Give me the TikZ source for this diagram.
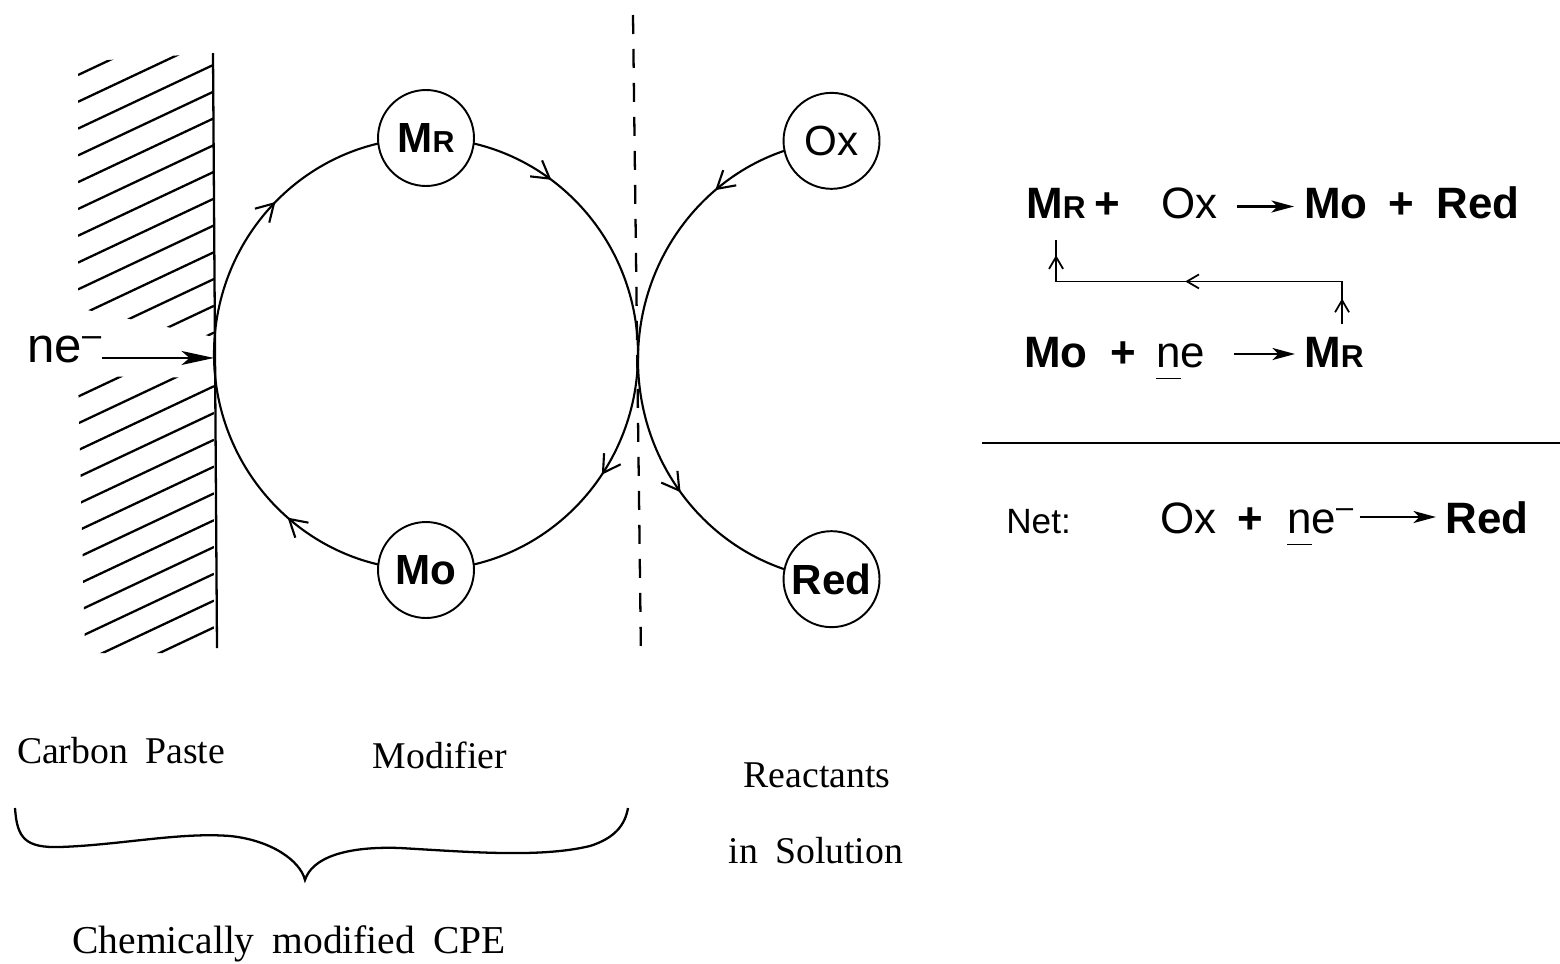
\documentclass[tikz,border=0pt]{standalone}
\usepackage{fontspec}
\setmainfont{Liberation Serif}[WordSpace=1.8]
\setsansfont{Liberation Sans}
\usepackage{graphicx}
\usetikzlibrary{arrows.meta, calc, decorations.markings}
\pgfdeclarelayer{background}
\pgfsetlayers{background,main}
\newcommand{\MR}{\textbf{M\scalebox{0.72}{R}}}

\begin{document}
\begin{tikzpicture}[
  x=0.02cm, y=0.02cm,
  line width=1.1pt,
  >={Straight Barb[length=3.4mm,width=4mm]},
  species/.style={circle, draw, fill=white, minimum size=1.92cm, inner sep=0pt, font=\sffamily\fontsize{24}{24}\selectfont},
  eqn/.style={anchor=base west, inner sep=0pt, font=\sffamily\fontsize{25}{25}\selectfont},
  tag/.style={anchor=base, inner sep=0pt, font=\fontsize{21.5}{21.5}\selectfont},
  orbit/.style={line width=1.2pt, postaction={decorate}},
  turn/.style={orbit, decoration={markings, mark=at position #1 with {\arrow{>}}}},
  rxn/.style={-{Stealth[length=4.5mm,width=2.4mm,inset=1.2mm]}, line width=1.4pt},
  push/.style={-{Stealth[length=6.5mm,width=2.8mm,inset=1.6mm]}, line width=1.2pt},
  fb/.style={line width=1pt, postaction={decorate}, decoration={markings,
    mark=at position 0.07 with {\arrow{Straight Barb[length=2.4mm,width=2.8mm]}},
    mark=at position 0.54 with {\arrow{Straight Barb[length=2.4mm,width=2.8mm]}},
    mark=at position 0.96 with {\arrow{Straight Barb[length=2.4mm,width=2.8mm]}}}},
  hatch/.style={line width=1.3pt}
]
  \useasboundingbox (0,0) rectangle (1560,-964);

  \coordinate (wt) at (213,-53);
  \coordinate (wb) at (217,-648);
  \coordinate (mc) at (426,-354);
  \coordinate (rc) at (850,-360);
  \coordinate (wl) at (214,-354);
  \coordinate (tp) at (638,-354);

  \node[species] (mr) at (426,-138) {\MR};
  \node[species] (mo) at (426,-570) {\textbf{Mo}};
  \node[species] (ox) at ($(rc)+(95:212 and 220)$) {Ox};
  \node[species] (red) at ($(rc)+(265:212 and 220)$) {\textbf{Red}};

  \begin{pgfonlayer}{background}
    \draw[turn=0.5] (wl) arc[start angle=180, end angle=90, x radius=212, y radius=216];
    \draw[turn=0.4] (mr) arc[start angle=90, end angle=0, x radius=212, y radius=216];
    \draw[turn=0.38] (tp) arc[start angle=0, end angle=-90, x radius=212, y radius=216];
    \draw[turn=0.45] (mo) arc[start angle=270, end angle=180, x radius=212, y radius=216];
    \draw[orbit, decoration={markings, mark=at position 0.2 with {\arrow{>}}, mark=at position 0.72 with {\arrow{>}}}]
      (ox) arc[start angle=95, end angle=265, x radius=212, y radius=220];
  \end{pgfonlayer}

  \begin{scope}
    \clip (78,-62) -- (214,-53) -- (214,-337) -- (78,-308) -- cycle;
    \foreach \k in {0,...,23}
      \draw[hatch] (78,{-75-26.8*\k}) -- ++(136,64);
  \end{scope}
  \begin{scope}
    \clip (78,-376) -- (214,-378) -- (214,-653) -- (85,-653) -- cycle;
    \foreach \k in {0,...,23}
      \draw[hatch] (78,{-75-26.8*\k}) -- ++(136,64);
  \end{scope}
  \draw[line width=1.3pt] (wt) -- (wb);

  \draw[line width=1.3pt, dash pattern=on 0.38cm off 0.3cm] (633,-15) -- (641,-658);

  \node[anchor=base west, inner sep=0pt, font=\sffamily\fontsize{28}{28}\selectfont] (ne) at (27,-362) {ne\textsuperscript{--}};
  \draw[push] (ne.mid east) -- (ne.mid east -| wl);

  \node[eqn] (mrA) at (1026,-218) {\MR};
  \node[eqn] (plA) at (1094,-218) {\textbf{+}};
  \node[eqn] (oxA) at (1161,-218) {Ox};
  \node[eqn] (moA) at (1304,-218) {\textbf{Mo}};
  \node[eqn] (plA2) at (1388,-218) {\textbf{+}};
  \node[eqn] (redA) at (1436,-218) {\textbf{Red}};
  \draw[rxn, shorten <=0.38cm, shorten >=0.2cm] ([yshift=0.23cm]oxA.base east) -- ([yshift=0.23cm]moA.base west);

  \node[eqn] (moB) at (1024,-367) {\textbf{Mo}};
  \node[eqn] (plB) at (1110,-367) {\textbf{+}};
  \node[eqn] (neB) at (1156,-367) {\underline{n\vphantom{g}}e};
  \node[eqn] (mrB) at (1304,-367) {\MR};
  \draw[rxn, shorten <=0.56cm, shorten >=0.18cm] ([yshift=0.26cm]neB.base east) -- ([yshift=0.26cm]mrB.base west);

  \draw[fb] ($(mrB.north)+(8,12)$) -- ++(0,43) -| ($(mrA.south)+(0,-22)$);

  \draw[line width=1.3pt] (982,-443) -- (1560,-443);

  \node[eqn, font=\sffamily\fontsize{20}{20}\selectfont] (net) at (1006,-533) {Net:};
  \node[eqn] (oxC) at (1160,-533) {Ox};
  \node[eqn] (plC) at (1237,-533) {\textbf{+}};
  \node[eqn] (neC) at (1287,-533) {\underline{n\vphantom{g}}e\textsuperscript{--}};
  \node[eqn] (redC) at (1445,-533) {\textbf{Red}};
  \draw[rxn, shorten <=0.1cm, shorten >=0.18cm] ([yshift=0.32cm]neC.base east) -- ([yshift=0.32cm]redC.base west);

  \node[tag] (paste) at (121,-763) {Carbon Paste};
  \node[tag] (modif) at (440,-768) {Modifier};
  \node[tag] (reac) at (817,-787) {Reactants};
  \node[tag] (soln) at (816,-863) {in Solution};
  \node[tag, font=\fontsize{22.5}{22.5}\selectfont] (cpe) at (289,-953) {Chemically modified CPE};

  \draw[line width=1.3pt] (15,-808) .. controls (17,-838) and (25,-848) .. (60,-847)
    .. controls (120,-845) and (180,-832) .. (230,-836)
    .. controls (270,-840) and (300,-860) .. (305,-880)
    .. controls (312,-858) and (345,-846) .. (400,-848)
    .. controls (470,-852) and (540,-858) .. (590,-846)
    .. controls (615,-838) and (625,-825) .. (628,-808);
\end{tikzpicture}
\end{document}
